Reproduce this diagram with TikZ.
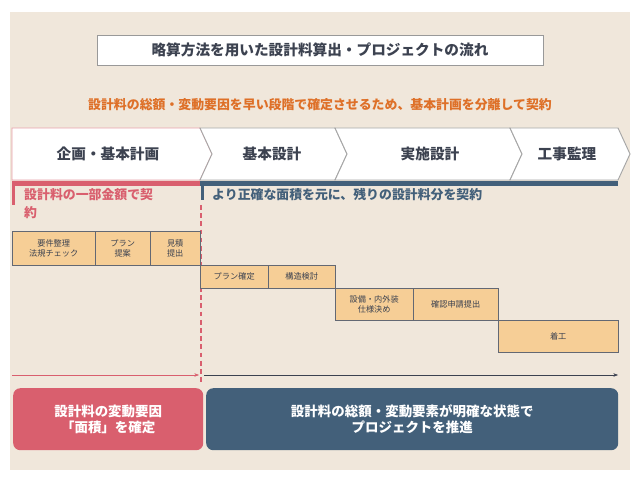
\documentclass[tikz,border=0pt]{standalone}
\usepackage{fontspec}
\setmainfont{Noto Sans CJK JP}
\usepackage{tikz}
\usetikzlibrary{positioning,arrows.meta}
\definecolor{beige}{RGB}{240,231,219}
\definecolor{pinkc}{RGB}{217,95,110}
\definecolor{navy}{RGB}{67,96,122}
\definecolor{taskc}{RGB}{246,206,150}
\definecolor{orangec}{RGB}{222,112,40}
\definecolor{inkc}{RGB}{60,66,80}
\tikzset{
  task/.style={draw=inkc!80,fill=taskc,inner sep=0pt,align=center,font=\fontsize{7}{9}\selectfont,text=inkc},
  phase/.style={draw=gray!70,fill=white,thick},
  phaselabel/.style={font=\bfseries\fontsize{12.5}{14}\selectfont,text=inkc},
  result/.style={rounded corners=6pt,inner sep=0pt,align=center,text=white,font=\bfseries\fontsize{11.5}{14}\selectfont}
}
\begin{document}
\begin{tikzpicture}[x=0.03cm,y=-0.03cm]
\useasboundingbox (0,0) rectangle (640,480);
\fill[white] (0,0) rectangle (640,480);
\fill[beige] (10,12) rectangle (630,470);

% title
\node[draw=gray!80,fill=white,minimum width=446*0.03cm,minimum height=30*0.03cm,
  font=\bfseries\fontsize{12.5}{14}\selectfont,text=inkc] (title) at (320,50)
  {略算方法を用いた設計料算出・プロジェクトの流れ};
\node[font=\bfseries\fontsize{11}{13}\selectfont,text=orangec] (lead) at (320,105)
  {設計料の総額・変動要因を早い段階で確定させるため、基本計画を分離して契約};

% phases
\draw[phase,draw=pinkc!60] (12,128) -- (200,128) -- (212,154) -- (200,180) -- (12,180) -- cycle;
\draw[phase] (200,128) -- (335,128) -- (347,154) -- (335,180) -- (200,180) -- (212,154) -- cycle;
\draw[phase] (335,128) -- (510,128) -- (522,154) -- (510,180) -- (335,180) -- (347,154) -- cycle;
\draw[phase] (510,128) -- (618,128) -- (630,154) -- (618,180) -- (510,180) -- (522,154) -- cycle;
\node[phaselabel] (p1) at (108,154) {企画・基本計画};
\node[phaselabel] (p2) at (272,154) {基本設計};
\node[phaselabel] (p3) at (430,154) {実施設計};
\node[phaselabel] (p4) at (567,154) {工事監理};

% contract bars
\fill[pinkc] (12,181) rectangle (200,186);
\fill[navy] (200,181) rectangle (618,186);
\fill[pinkc] (12,186) rectangle (15,205);
\fill[navy] (201,186) rectangle (204,200);
\node[anchor=north west,text=pinkc,font=\bfseries\fontsize{11}{15.5}\selectfont,align=left,inner sep=0pt] (c1) at (24,188)
  {設計料の一部金額で契\\約};
\node[anchor=north west,text=navy,font=\bfseries\fontsize{11}{15}\selectfont,inner sep=0pt] (c2) at (212,188)
  {より正確な面積を元に、残りの設計料分を契約};
\draw[pinkc,line width=1.2pt,dash pattern=on 4pt off 3pt] (201,205) -- (201,385);

% tasks
\node[task,minimum width=83*0.03cm,minimum height=34*0.03cm,anchor=north west] (t1) at (12,231) {要件整理\\法規チェック};
\node[task,minimum width=55*0.03cm,minimum height=34*0.03cm,anchor=north west] (t2) at (95,231) {プラン\\提案};
\node[task,minimum width=50*0.03cm,minimum height=34*0.03cm,anchor=north west] (t3) at (150,231) {見積\\提出};
\node[task,minimum width=68*0.03cm,minimum height=23*0.03cm,anchor=north west] (t4) at (200,265) {プラン確定};
\node[task,minimum width=67*0.03cm,minimum height=23*0.03cm,anchor=north west] (t5) at (268,265) {構造検討};
\node[task,minimum width=78*0.03cm,minimum height=32*0.03cm,anchor=north west] (t6) at (335,288) {設備・内外装\\仕様決め};
\node[task,minimum width=85*0.03cm,minimum height=32*0.03cm,anchor=north west] (t7) at (413,288) {確認申請提出};
\node[task,minimum width=120*0.03cm,minimum height=32*0.03cm,anchor=north west] (t8) at (498,320) {着工};

% timeline
\coordinate (a0) at (12,375);
\coordinate (a1) at (199,375);
\coordinate (b0) at (204,375);
\coordinate (b1) at (618,375);
\draw[pinkc,-{Stealth[length=4pt]}] (a0) -- (a1);
\draw[inkc,-{Stealth[length=4pt]}] (b0) -- (b1);

% results
\node[result,fill=pinkc,minimum width=190*0.03cm,minimum height=62*0.03cm,anchor=north west] (r1) at (13,388)
  {設計料の変動要因\\「面積」を確定};
\node[result,fill=navy,minimum width=412*0.03cm,minimum height=62*0.03cm,anchor=north west] (r2) at (206,388)
  {設計料の総額・変動要素が明確な状態で\\プロジェクトを推進};
\end{tikzpicture}
\end{document}
